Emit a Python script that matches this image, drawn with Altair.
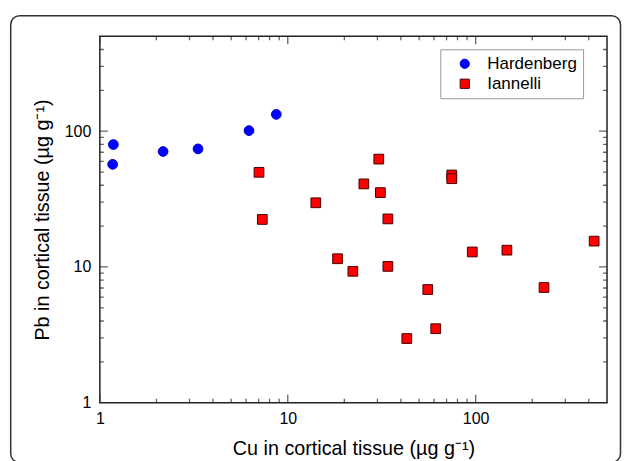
import altair as alt
import pandas as pd

# ---- data ----
hard_cu = [1.18, 1.17, 2.17, 3.33, 6.22, 8.69]
hard_pb = [79.8, 57.0, 70.9, 74.1, 101, 133]

ian_cu = [7.03, 7.32, 14.1, 30.5, 25.4, 31.1, 34.1, 74.6, 74.6, 427,
          18.4, 22.2, 34.1, 95.9, 146.6, 231, 55.6, 61.3, 43.0]
ian_pb = [49.8, 22.4, 29.7, 62.3, 40.9, 35.3, 22.6, 47.6, 44.7, 15.5,
          11.5, 9.29, 10.1, 12.9, 13.3, 7.06, 6.82, 3.51, 2.97]

series = ["Hardenberg", "Iannelli"]
axis_labels = [1, 10, 100]
major_ticks = [1, 10, 100]
minor_ticks = [2, 3, 4, 5, 6, 7, 8, 9, 20, 30, 40, 50, 60, 70, 80, 90, 200, 300, 400]
domain = [1, 500]

df = pd.DataFrame({
    "cu": hard_cu + ian_cu,
    "pb": hard_pb + ian_pb,
    "source": [series[0]] * len(hard_cu) + [series[1]] * len(ian_cu),
})
major_df = pd.DataFrame({"v": major_ticks})
minor_df = pd.DataFrame({"v": minor_ticks})
one_df = pd.DataFrame({"a": [0]})

xs = alt.Scale(type="log", domain=domain, nice=False)
ys = alt.Scale(type="log", domain=domain, nice=False)

AXIS_COLOR = "#222222"

x_axis = alt.Axis(values=axis_labels, format="d", ticks=False, domain=False, grid=False,
                  labelFontSize=16, labelPadding=8, labelFlush=False,
                  title="Cu in cortical tissue (µg g⁻¹)", titleFontSize=19.8,
                  titlePadding=12, titleFontWeight="normal")
y_axis = alt.Axis(values=axis_labels, format="d", ticks=False, domain=False, grid=False,
                  labelFontSize=16, labelPadding=9, labelFlush=False,
                  title="Pb in cortical tissue (µg g⁻¹)", titleFontSize=19.8,
                  titlePadding=12, titleFontWeight="normal")

legend = alt.Legend(
    orient="none", legendX=341, legendY=13, title=None,
    fillColor="white", strokeColor="#999999", padding=6,
    symbolOffset=10, labelOffset=14, labelFontSize=17, rowPadding=2,
    symbolSize=85, symbolStrokeWidth=1, labelColor="black",
)

points = alt.Chart(df).mark_point(filled=True, size=95, opacity=1, strokeWidth=1).encode(
    x=alt.X("cu:Q", scale=xs, axis=x_axis),
    y=alt.Y("pb:Q", scale=ys, axis=y_axis),
    fill=alt.Fill("source:N", scale=alt.Scale(domain=series, range=["#0000FF", "#FF0000"]), legend=legend),
    stroke=alt.Stroke("source:N", scale=alt.Scale(domain=series, range=["#0000D0", "#4A0000"]), legend=legend),
    shape=alt.Shape("source:N", scale=alt.Scale(domain=series, range=["circle", "square"]), legend=legend),
)


def xticks(data, size, yval):
    return alt.Chart(data).mark_tick(orient="vertical", size=size, thickness=1.3,
                                     color=AXIS_COLOR, clip=True).encode(
        x=alt.X("v:Q", scale=xs, axis=x_axis),
        y=alt.YDatum(yval, type="quantitative", scale=ys, axis=y_axis),
    )


def yticks(data, size, xval):
    return alt.Chart(data).mark_tick(orient="horizontal", size=size, thickness=1.3,
                                     color=AXIS_COLOR, clip=True).encode(
        y=alt.Y("v:Q", scale=ys, axis=y_axis),
        x=alt.XDatum(xval, type="quantitative", scale=xs, axis=x_axis),
    )


tick_layers = []
for yv in (1, 500):
    tick_layers.append(xticks(major_df, 16, yv))
    tick_layers.append(xticks(minor_df, 8, yv))
for xv in (1, 500):
    tick_layers.append(yticks(major_df, 16, xv))
    tick_layers.append(yticks(minor_df, 8, xv))

frame = alt.Chart(one_df).mark_rect(fillOpacity=0, stroke="#333333", strokeWidth=1.5,
                                    cornerRadius=9).encode(
    x=alt.value(-89.3), x2=alt.value(521.5),
    y=alt.value(-20.7), y2=alt.value(427),
)

chart = alt.layer(points, *tick_layers, frame).properties(
    width=508, height=367,
    padding={"left": 1, "top": 6, "right": 0, "bottom": 0},
).configure(
    font="Liberation Sans",
).configure_view(
    stroke=AXIS_COLOR, strokeWidth=1.5,
).configure_axis(
    labelColor="black", titleColor="black",
)

chart.save("out.html", embed_options={"renderer": "svg", "actions": False})
